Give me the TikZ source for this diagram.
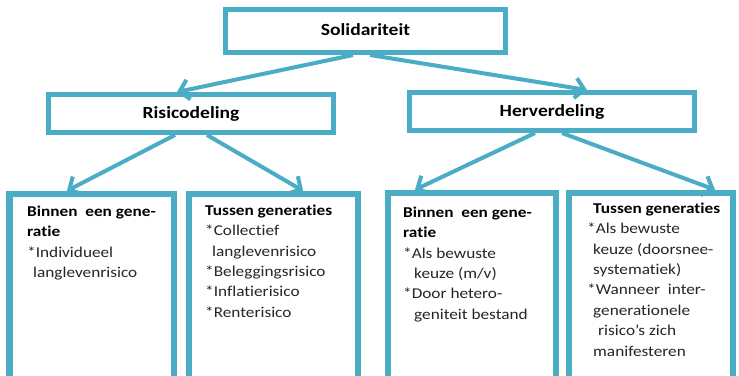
\documentclass[tikz,border=0pt]{standalone}
\usepackage{fontspec}
\setmainfont{Carlito}[FakeStretch=1.15,Ligatures=NoCommon]
\usetikzlibrary{arrows.meta,calc}
\definecolor{teal}{HTML}{4BACC6}
\definecolor{txt}{HTML}{262626}
\begin{document}
\begin{tikzpicture}[x=1pt,y=-1pt,
  topbox/.style={draw=teal,line width=5pt,fill=white,inner sep=0pt,
    minimum width=285pt,minimum height=38pt,font=\fontsize{17}{20}\selectfont\bfseries,text=black},
  lowbox/.style={draw=teal,line width=6.5pt,fill=white,inner sep=0pt,minimum height=190pt},
  arr/.style={draw=teal,line width=4pt,-{Straight Barb[length=9pt,width=20pt]}},
  body/.style={anchor=north west,inner sep=0pt,align=left,text=txt,
    font=\fontsize{15}{20.4}\selectfont}]
\useasboundingbox (0,0) rectangle (739,375);
\fill[white] (0,0) rectangle (739,375);

% top-level boxes
\node[topbox,minimum width=280pt,minimum height=43pt] (S) at (365.5,31) {\raisebox{3.5pt}{Solidariteit}};
\node[topbox] (R) at (191,113.5) {Risicodeling};
\node[topbox] (H) at (552,111.5) {Herverdeling};

% bottom boxes
\node[lowbox,minimum width=164.5pt] (B1) at (91.75,289) {};
\node[lowbox,minimum width=169pt] (B2) at (273.5,289) {};
\node[lowbox,minimum width=168pt] (B3) at (472,288) {};
\node[lowbox,minimum width=164pt] (B4) at (651,288) {};

% x positions of connector ends
\coordinate (xs1) at (353,0);
\coordinate (xs2) at (370,0);
\coordinate (xr) at (177,0);
\coordinate (xh) at (587,0);
\coordinate (xr1) at (175,0);
\coordinate (xr2) at (207,0);
\coordinate (xb1) at (67,0);
\coordinate (xb2) at (303,0);
\coordinate (xh1) at (535,0);
\coordinate (xh2) at (562,0);
\coordinate (xb3) at (415,0);
\coordinate (xb4) at (715,0);

\draw[arr] (S.south -| xs1) -- (R.north -| xr);
\draw[arr] (S.south -| xs2) -- (H.north -| xh);
\draw[arr] (R.south -| xr1) -- (B1.north -| xb1);
\draw[arr] (R.south -| xr2) -- (B2.north -| xb2);
\draw[arr] (H.south -| xh1) -- (B3.north -| xb3);
\draw[arr] (H.south -| xh2) -- (B4.north -| xb4);

% texts
\node[body] (T1) at (27,204) {\rule{0pt}{12pt}\textbf{\color{black}Binnen\ \ een gene-}\\
\textbf{\color{black}ratie}\\
*Individueel\\
\hspace*{6pt}langlevenrisico};

\node[body] (T2) at (205,203) {\rule{0pt}{12pt}\textbf{\color{black}Tussen generaties}\\
*Collectief\\
\hspace*{7pt}langlevenrisico\\
*Beleggingsrisico\\
*Inflatierisico\\
*Renterisico};

\node[body] (T3) at (403,205) {\rule{0pt}{12pt}\textbf{\color{black}Binnen\ \ een gene-}\\
\textbf{\color{black}ratie}\\
*Als bewuste\\
\hspace*{11pt}keuze (m/v)\\
*Door hetero-\\
\hspace*{11pt}geniteit bestand};

\node[body] (T4) at (587,201) {\rule{0pt}{12pt}\hspace*{6pt}\textbf{\color{black}Tussen generaties}\\
*Als bewuste\\
\hspace*{6pt}keuze (doorsnee-\\
\hspace*{6pt}systematiek)\\
*Wanneer\ \ inter-\\
\hspace*{6pt}generationele\\
\hspace*{11pt}risico’s zich\\
\hspace*{6pt}manifesteren};
\end{tikzpicture}
\end{document}
